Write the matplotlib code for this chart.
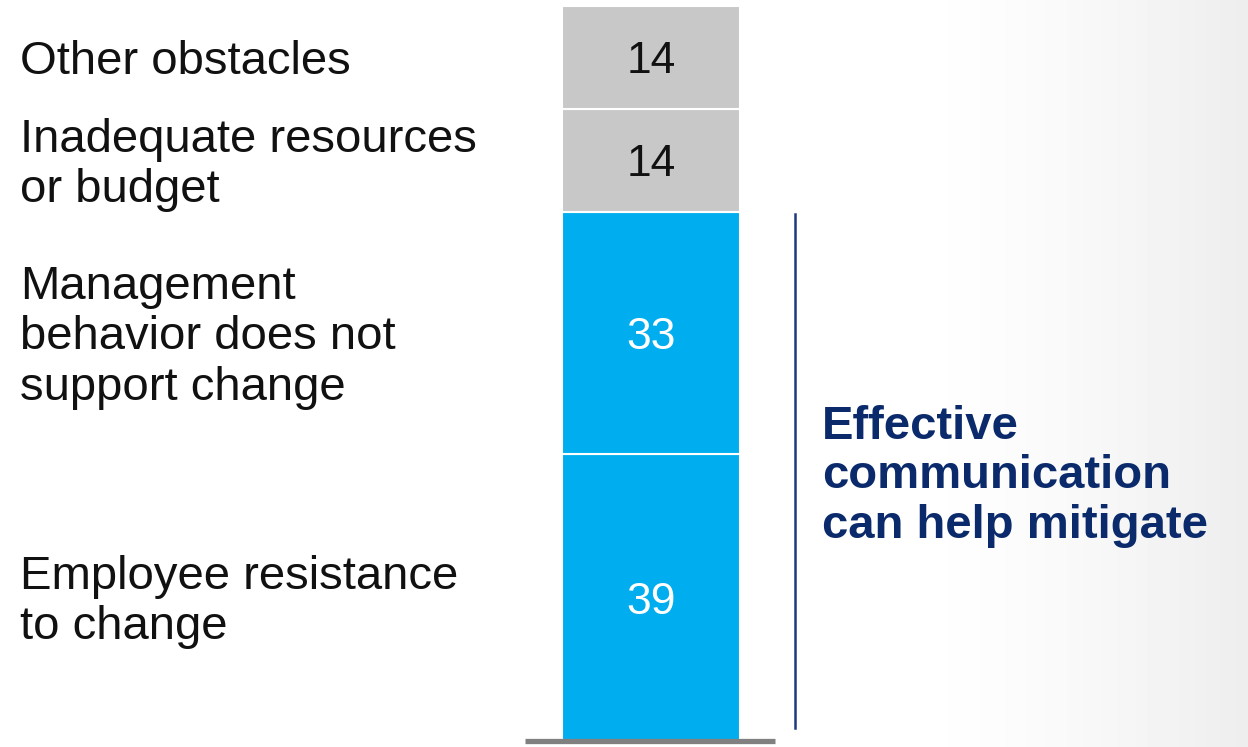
import numpy as np
import matplotlib.pyplot as plt

plt.rcParams['font.family'] = ['Liberation Sans', 'DejaVu Sans']

categories = ["Employee resistance\nto change",
              "Management\nbehavior does not\nsupport change",
              "Inadequate resources\nor budget",
              "Other obstacles"]
values = [39, 33, 14, 14]
colors = ["#00AEEF", "#00AEEF", "#C8C8C8", "#C8C8C8"]
value_colors = ["white", "white", "#111111", "#111111"]
note = "Effective\ncommunication\ncan help mitigate"

fig = plt.figure(figsize=(12.48, 7.47), dpi=100)

# soft gray gradient on the right side
bg = fig.add_axes([0, 0, 1, 1])
grad = np.linspace(0, 1, 400)
grad = np.clip((grad - 0.72) / 0.28, 0, 1) ** 1.5
img = 1 - 0.07 * grad
bg.imshow(np.tile(img, (10, 1)), cmap="gray", vmin=0, vmax=1, aspect="auto",
          extent=[0, 1, 0, 1])
bg.axis("off")

ax = fig.add_axes([0, 0, 1, 1])
ax.patch.set_alpha(0)
ax.set_xlim(0, 1248)
ax.set_ylim(-6 / 7.35, 741 / 7.35)
ax.axis("off")

bottom = 0
for cat, v, c, tc in zip(categories, values, colors, value_colors):
    ax.bar(651, v, width=178, bottom=bottom, color=c, edgecolor="white", linewidth=1.5)
    mid = bottom + v / 2 - 0.6
    ax.text(651, mid, str(v), ha="center", va="center", fontsize=32, color=tc)
    ax.text(20, mid, cat, ha="left", va="center", fontsize=34, color="#111111",
            linespacing=1.18)
    bottom += v

# baseline
ax.plot([525, 775], [0, 0], color="#808080", linewidth=3.8, solid_capstyle="butt")

# bracket line for the blue segments
ax.plot([795, 795], [(741 - 728) / 7.35, values[0] + values[1] - 0.3],
        color="#1F3A7A", linewidth=1.8)
ax.text(822, 36.0, note, ha="left", va="center",
        fontsize=34, fontweight="bold", color="#0A2A6B", linespacing=1.15)

fig.savefig("out.png", dpi=100)
